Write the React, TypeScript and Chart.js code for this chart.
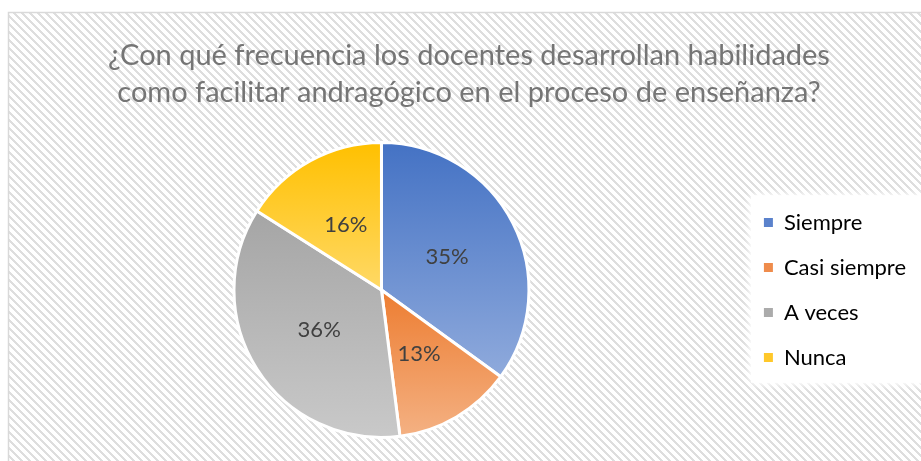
import React, { useEffect, useRef } from 'react';
import { Chart, registerables } from 'chart.js';

Chart.register(...registerables);

const TITLE_LINES = [
  '¿Con qué frecuencia los docentes desarrollan habilidades',
  'como facilitar andragógico en el proceso de enseñanza?',
];
const CATEGORIES = ['Siempre', 'Casi siempre', 'A veces', 'Nunca'];
const PERCENTS = [35, 13, 36, 16];
const TOP_COLORS = ['#4472C4', '#ED7D31', '#A5A5A5', '#FFC000'];
const BOTTOM_COLORS = ['#8FAADC', '#F4B183', '#C9C9C9', '#FFD966'];
const LEGEND_COLORS = ['#5B82CC', '#EF8C4C', '#ABABAB', '#FFC82A'];

const FONT = 'Lato';

function makeHatch(ctx: CanvasRenderingContext2D) {
  const c = document.createElement('canvas');
  c.width = 8;
  c.height = 8;
  const g = c.getContext('2d')!;
  g.fillStyle = '#ffffff';
  g.fillRect(0, 0, 8, 8);
  g.fillStyle = '#dedede';
  for (let r = 0; r < 8; r++) {
    for (let k = 0; k < 3; k++) {
      g.fillRect((r + k) % 8, r, 1, 1);
    }
  }
  return ctx.createPattern(c, 'repeat');
}

const backgroundPlugin = {
  id: 'bgHatch',
  beforeDraw(chart: any) {
    const { ctx, width, height } = chart;
    ctx.save();
    ctx.fillStyle = '#ffffff';
    ctx.fillRect(0, 0, width, height);
    const pat = makeHatch(ctx);
    if (pat) {
      ctx.fillStyle = pat;
      ctx.fillRect(8, 12, width - 8, height - 12);
    }
    ctx.strokeStyle = '#d9d9d9';
    ctx.lineWidth = 1.5;
    ctx.beginPath();
    ctx.moveTo(8.5, height);
    ctx.lineTo(8.5, 12.5);
    ctx.lineTo(width, 12.5);
    ctx.stroke();
    // legend white panel
    const lg = chart.legend;
    if (lg && lg.legendHitBoxes && lg.legendHitBoxes.length) {
      const hb = lg.legendHitBoxes;
      const x0 = hb[0].left - 13;
      const y0 = hb[0].top - 16;
      const last = hb[hb.length - 1];
      const y1 = last.top + last.height + 14;
      ctx.shadowColor = 'rgba(255,255,255,1)';
      ctx.shadowBlur = 8;
      ctx.fillStyle = '#ffffff';
      ctx.fillRect(x0, y0, width - x0 + 20, y1 - y0);
      ctx.fillRect(x0, y0, width - x0 + 20, y1 - y0);
    }
    ctx.restore();
  },
};

function angleIn(a: number, s: number, e: number) {
  for (let k = -2; k <= 2; k++) {
    const t = a + 2 * Math.PI * k;
    if (t >= s && t <= e) return true;
  }
  return false;
}

const gradientPlugin = {
  id: 'sliceGradient',
  beforeDatasetsDraw(chart: any) {
    const ctx = chart.ctx;
    const meta = chart.getDatasetMeta(0);
    meta.data.forEach((arc: any, i: number) => {
      const { x, y, startAngle, endAngle, outerRadius } = arc.getProps(
        ['x', 'y', 'startAngle', 'endAngle', 'outerRadius'],
        true
      );
      const ys = [y, y + outerRadius * Math.sin(startAngle), y + outerRadius * Math.sin(endAngle)];
      if (angleIn(Math.PI / 2, startAngle, endAngle)) ys.push(y + outerRadius);
      if (angleIn(-Math.PI / 2, startAngle, endAngle)) ys.push(y - outerRadius);
      const ymin = Math.min(...ys);
      const ymax = Math.max(...ys);
      const g = ctx.createLinearGradient(x, ymin, x, ymax);
      g.addColorStop(0, TOP_COLORS[i]);
      g.addColorStop(1, BOTTOM_COLORS[i]);
      arc.options.backgroundColor = g;
    });
  },
};

const labelPlugin = {
  id: 'pctLabels',
  afterDatasetsDraw(chart: any) {
    const ctx = chart.ctx;
    const meta = chart.getDatasetMeta(0);
    ctx.save();
    ctx.font = `22px ${FONT}`;
    ctx.fillStyle = '#404040';
    ctx.textAlign = 'center';
    ctx.textBaseline = 'middle';
    meta.data.forEach((arc: any, i: number) => {
      const p = arc.tooltipPosition(true);
      ctx.fillText(`${PERCENTS[i]}%`, p.x, p.y);
    });
    ctx.restore();
  },
};

export default function App() {
  const ref = useRef<HTMLCanvasElement | null>(null);

  useEffect(() => {
    if (!ref.current) return;
    const chart = new Chart(ref.current, {
      type: 'pie',
      data: {
        labels: CATEGORIES,
        datasets: [
          {
            data: PERCENTS,
            backgroundColor: TOP_COLORS,
            borderColor: '#ffffff',
            borderWidth: 3,
          },
        ],
      },
      options: {
        responsive: false,
        animation: false,
        events: [],
        layout: { padding: { left: 22, right: 5, top: 0, bottom: 22 } },
        plugins: {
          title: {
            display: true,
            text: TITLE_LINES,
            color: '#757575',
            font: { family: FONT, size: 29, weight: 'normal', lineHeight: '37px' },
            padding: { top: 37, bottom: 30 },
          },
          legend: {
            display: true,
            position: 'right',
            align: 'center',
            fullSize: false,
            labels: {
              boxWidth: 9,
              boxHeight: 9,
              padding: 23,
              color: '#595959',
              font: { family: FONT, size: 22 },
              generateLabels: () =>
                CATEGORIES.map((t, i) => ({
                  text: t,
                  fillStyle: LEGEND_COLORS[i],
                  strokeStyle: LEGEND_COLORS[i],
                  lineWidth: 0,
                  hidden: false,
                  index: i,
                  datasetIndex: 0,
                })),
            },
          },
          tooltip: { enabled: false },
        },
      },
      plugins: [backgroundPlugin, gradientPlugin, labelPlugin],
    } as any);
    return () => chart.destroy();
  }, []);

  return (
    <div style={{ position: 'absolute', left: 0, top: 0, width: 921, height: 461 }}>
      <canvas ref={ref} width={921} height={461} style={{ display: 'block' }} />
    </div>
  );
}
